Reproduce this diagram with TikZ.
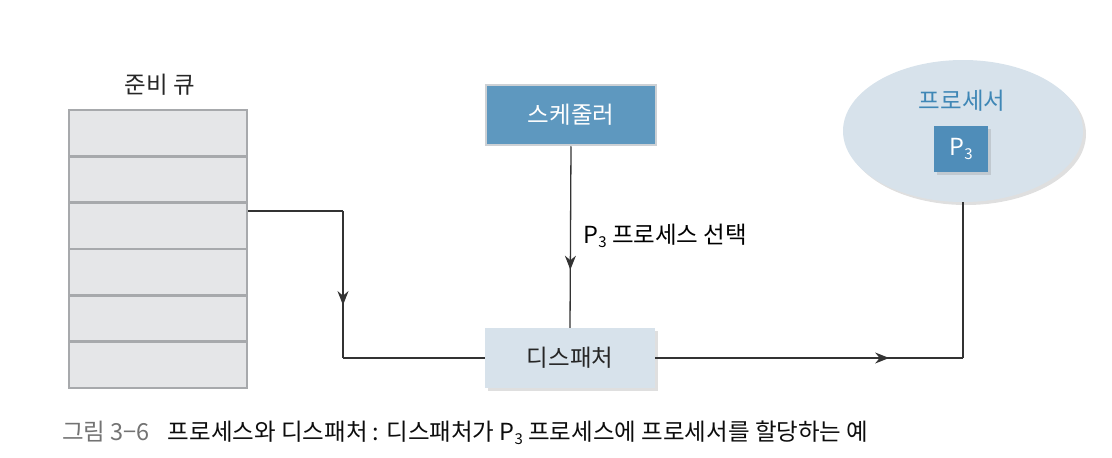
\documentclass[tikz,border=0pt]{standalone}
\usepackage{fontspec}
\setmainfont{Noto Sans CJK KR}
\usetikzlibrary{arrows.meta,shadows,decorations.markings,shapes.geometric}
\definecolor{qfill}{HTML}{E5E6E8}
\definecolor{qline}{HTML}{A7A9AC}
\definecolor{schedfill}{HTML}{5E98BF}
\definecolor{schedline}{HTML}{CDD1D5}
\definecolor{lightblue}{HTML}{D7E2EB}
\definecolor{pbox}{HTML}{4F8DB9}
\definecolor{ptext}{HTML}{3F87B6}
\definecolor{linecol}{HTML}{333333}
\newcommand\subthree{\raisebox{-0.35ex}{\fontsize{15}{15}\selectfont 3}}
\tikzset{
  qcell/.style={draw=qline, line width=2.5pt, fill=qfill, minimum width=178pt, minimum height=46.3pt, inner sep=0pt},
  softshadow/.style={drop shadow={opacity=0.25, shadow xshift=3pt, shadow yshift=-3pt}},
  conn/.style={draw=linecol, line width=1.3pt},
  midarrow/.style={postaction={decorate}, decoration={markings, mark=at position #1 with {\arrow{Stealth[length=14pt,width=11pt]}}}},
  txt/.style={font=\fontsize{23.5}{23.5}\selectfont},
}
\begin{document}
\begin{tikzpicture}[x=1pt,y=-1pt]
\useasboundingbox (0,0) rectangle (1112,458);
% ready queue
\node[txt, text=black!85] (qlabel) at (160,85) {준비 큐};
\node[qcell] (q1) at (158,133.2) {};
\node[qcell] (q2) at (158,179.5) {};
\node[qcell] (q3) at (158,225.8) {};
\node[qcell] (q4) at (158,272.1) {};
\node[qcell] (q5) at (158,318.4) {};
\node[qcell] (q6) at (158,364.7) {};
% scheduler
\node[txt, draw=schedline, line width=2.5pt, fill=schedfill, text=white, minimum width=170pt, minimum height=60pt] (sched) at (571,115) {스케줄러};
% dispatcher
\node[txt, fill=lightblue, softshadow, text=black!85, minimum width=170pt, minimum height=60pt] (disp) at (570,358) {디스패처};
% processor
\node[ellipse, fill=lightblue, softshadow, minimum width=240pt, minimum height=142pt] (proc) at (963,131) {};
\node[txt, text=ptext] (plabel) at (962,101) {프로세서};
\node[txt, fill=pbox, softshadow, text=white, minimum width=54pt, minimum height=46pt, inner sep=0pt] (p3) at (961,149) {P\subthree};
% connectors
\coordinate (qa) at (248,211);
\coordinate (c1) at (343,211);
\coordinate (c2) at (343,358);
\draw[conn] (qa) -- (c1);
\draw[conn, midarrow=0.64] (c1) -- (c2);
\draw[conn] (c2) -- (disp.west);
\draw[conn, midarrow=0.68] (sched.south) -- (disp.north);
\node[txt, anchor=west] (sellabel) at (580,236) {P\subthree{} 프로세스 선택};
\coordinate (c3) at (proc.south |- disp.east);
\draw[conn, midarrow=0.76] (disp.east) -- (c3);
\draw[conn] (c3) -- (proc.south);
% caption
\node[anchor=west, inner sep=0pt, font=\fontsize{23.5}{23.5}\selectfont] (caption) at (62,433) {\textcolor{black!55}{그림 3−6}\hspace{18pt}\textcolor{black!95}{프로세스와 디스패처 : 디스패처가 P\subthree{} 프로세스에 프로세서를 할당하는 예}};
\end{tikzpicture}
\end{document}
